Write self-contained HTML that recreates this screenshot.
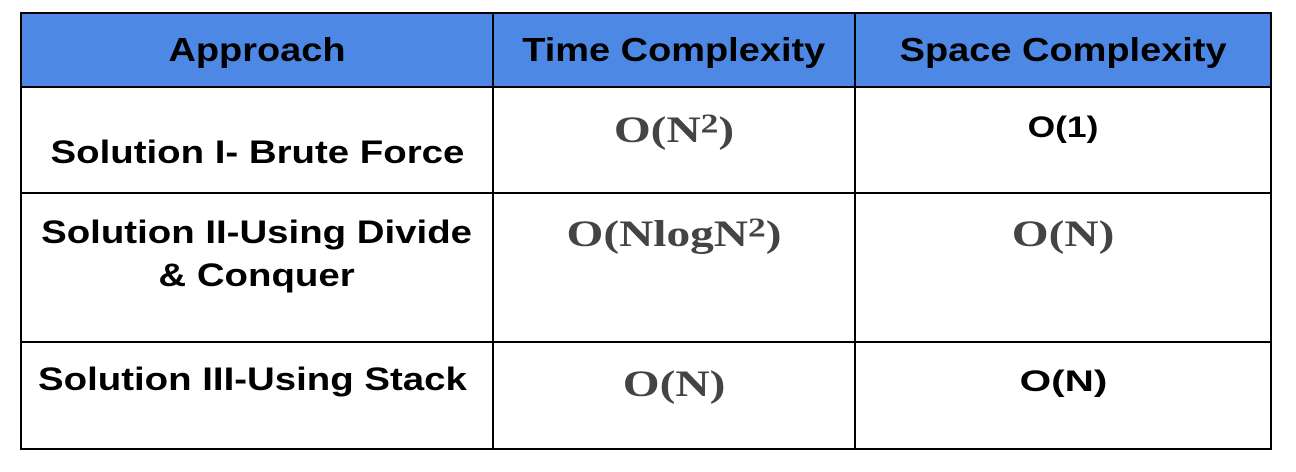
<!DOCTYPE html>
<html><head><style>
body{margin:0;width:1296px;height:472px;background:#fff;position:relative;overflow:hidden;font-family:"Liberation Sans",sans-serif}
.l{position:absolute;background:#000}
.t{position:absolute;font-weight:bold;white-space:nowrap;text-align:center}
.t span{display:inline-block}
.s{font-family:"Liberation Serif",serif;color:#444;font-size:37px}
.s span{transform:scaleX(1.28)}
.b{font-size:32px;color:#000}
.b span{transform:scaleX(1.2)}
.h{font-size:33px}
.h span{transform:scaleX(1.15)}
.o{font-size:30px}
.o span{transform:scaleX(1.18)}
sup{font-size:0.75em;vertical-align:0.35em;line-height:0}
</style></head><body>
<div style="position:absolute;left:21px;top:13px;width:1250px;height:74px;background:#4d88e4"></div>
<div class="l" style="left:20px;top:12px;width:1252px;height:2px"></div>
<div class="l" style="left:20px;top:86px;width:1252px;height:2px"></div>
<div class="l" style="left:20px;top:192px;width:1252px;height:2px"></div>
<div class="l" style="left:20px;top:341px;width:1252px;height:2px"></div>
<div class="l" style="left:20px;top:448px;width:1252px;height:2px"></div>
<div class="l" style="left:20px;top:12px;width:2px;height:438px"></div>
<div class="l" style="left:492px;top:12px;width:2px;height:438px"></div>
<div class="l" style="left:854px;top:12px;width:2px;height:438px"></div>
<div class="l" style="left:1270px;top:12px;width:2px;height:438px"></div>

<div class="t h" style="left:22px;width:470px;top:31px"><span>Approach</span></div>
<div class="t h" style="left:494px;width:360px;top:31px"><span>Time Complexity</span></div>
<div class="t h" style="left:856px;width:414px;top:31px"><span>Space Complexity</span></div>

<div class="t b" style="left:22px;width:470px;top:134px"><span>Solution I- Brute Force</span></div>
<div class="t s" style="left:494px;width:360px;top:109px"><span>O(N<sup>2</sup>)</span></div>
<div class="t o" style="left:856px;width:414px;top:111px"><span>O(1)</span></div>

<div class="t b" style="left:22px;width:470px;top:211px;line-height:43px"><span>Solution II-Using Divide<br>&amp; Conquer</span></div>
<div class="t s" style="left:494px;width:360px;top:213px"><span>O(NlogN<sup>2</sup>)</span></div>
<div class="t s" style="left:856px;width:414px;top:213px"><span>O(N)</span></div>

<div class="t b" style="left:38px;top:361px;text-align:left"><span style="transform-origin:left">Solution III-Using Stack</span></div>
<div class="t s" style="left:494px;width:360px;top:363px"><span>O(N)</span></div>
<div class="t o" style="left:856px;width:414px;top:365px"><span style="transform:scaleX(1.35)">O(N)</span></div>
</body></html>
